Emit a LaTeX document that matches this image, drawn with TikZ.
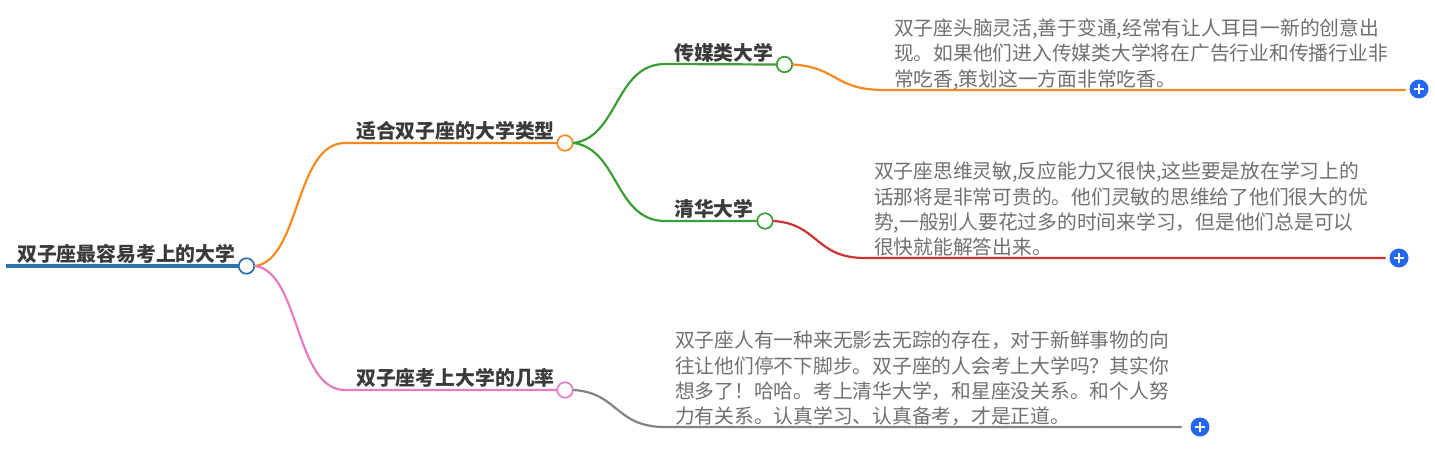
\documentclass[tikz,border=0pt]{standalone}
\usepackage{fontspec}
\setmainfont{Noto Sans CJK SC}
\definecolor{cblue}{HTML}{2A73A9}
\definecolor{corange}{HTML}{F58A1F}
\definecolor{cgreen}{HTML}{3A9E35}
\definecolor{cred}{HTML}{CC3333}
\definecolor{cpink}{HTML}{E57CC3}
\definecolor{cgray}{HTML}{838383}
\definecolor{cplus}{HTML}{2468F2}
\definecolor{ctitle}{HTML}{3A3A3A}
\definecolor{cbody}{HTML}{707070}
\tikzset{
  x=1pt,y=-1pt,
  dot/.style={circle,draw=#1,fill=white,line width=1.7pt,minimum size=15.5pt,inner sep=0pt},
  conn/.style={draw=#1,line width=2.2pt,line cap=round},
  title/.style={anchor=base west,inner sep=0pt,text=ctitle,font=\fontsize{19.85}{24}\selectfont\bfseries},
  body/.style={anchor=north west,inner sep=0pt,align=left,text=cbody,font=\fontsize{19.75}{25.3}\selectfont},
  plusbtn/.style={circle,fill=cplus,minimum size=19pt,inner sep=0pt,path picture={
    \draw[white,line width=1.7pt] ([xshift=-5pt]path picture bounding box.center)--([xshift=5pt]path picture bounding box.center);
    \draw[white,line width=1.7pt] ([yshift=-5pt]path picture bounding box.center)--([yshift=5pt]path picture bounding box.center);}},
}
\begin{document}
\begin{tikzpicture}
\useasboundingbox (0,0) rectangle (1435,455);
\coordinate (rootstart) at (6,266);
\coordinate (a1) at (345,143);
\coordinate (a2) at (345,390);
\coordinate (b1) at (665,64);
\coordinate (b2) at (665,221);
\coordinate (e1) at (884,90);
\coordinate (f1) at (1405,90);
\coordinate (e2) at (865,258);
\coordinate (f2) at (1385,258);
\coordinate (e3) at (665,427);
\coordinate (f3) at (1181,427);
\node[dot=cblue] (root) at (246.5,266) {};
\node[dot=corange] (n1) at (565,143) {};
\node[dot=cpink] (n2) at (565,390) {};
\node[dot=cgreen] (m1) at (784.5,64.5) {};
\node[dot=cgreen] (m2) at (765,221) {};
\node[plusbtn] (p1) at (1419,89) {};
\node[plusbtn] (p2) at (1399,258) {};
\node[plusbtn] (p3) at (1200,427) {};
\draw[conn=cblue,line width=4.4pt,line cap=butt] (rootstart) -- (root.west);
\draw[conn=corange] (root.east) .. controls +(45,-6) and +(-50,0) .. (a1) -- (n1.west);
\draw[conn=cpink] (root.east) .. controls +(45,6) and +(-50,0) .. (a2) -- (n2.west);
\draw[conn=cgreen] (n1.east) .. controls +(45,-6) and +(-50,0) .. (b1) -- (m1.west);
\draw[conn=cgreen] (n1.east) .. controls +(45,6) and +(-50,0) .. (b2) -- (m2.west);
\draw[conn=corange] (m1.east) .. controls +(45,3) and +(-50,0) .. (e1) -- (f1);
\draw[conn=cred] (m2.east) .. controls +(45,3) and +(-50,0) .. (e2) -- (f2);
\draw[conn=cgray] (n2.east) .. controls +(45,3) and +(-50,0) .. (e3) -- (f3);
\node[title] (t0) at (17,261.5) {双子座最容易考上的大学};
\node[title] (t1) at (356,138.5) {适合双子座的大学类型};
\node[title] (t2) at (356,385.5) {双子座考上大学的几率};
\node[title] (t3) at (674,60.5) {传媒类大学};
\node[title] (t4) at (674,216.5) {清华大学};
\node[body] (d1) at (894,18.5) {双子座头脑灵活,善于变通,经常有让人耳目一新的创意出\\现。如果他们进入传媒类大学将在广告行业和传播行业非\\常吃香,策划这一方面非常吃香。};
\node[body] (d2) at (874,162) {双子座思维灵敏,反应能力又很快,这些要是放在学习上的\\话那将是非常可贵的。他们灵敏的思维给了他们很大的优\\势,一般别人要花过多的时间来学习，但是他们总是可以\\很快就能解答出来。};
\node[body] (d3) at (675,331) {双子座人有一种来无影去无踪的存在，对于新鲜事物的向\\往让他们停不下脚步。双子座的人会考上大学吗？其实你\\想多了！哈哈。考上清华大学，和星座没关系。和个人努\\力有关系。认真学习、认真备考，才是正道。};
\end{tikzpicture}
\end{document}
